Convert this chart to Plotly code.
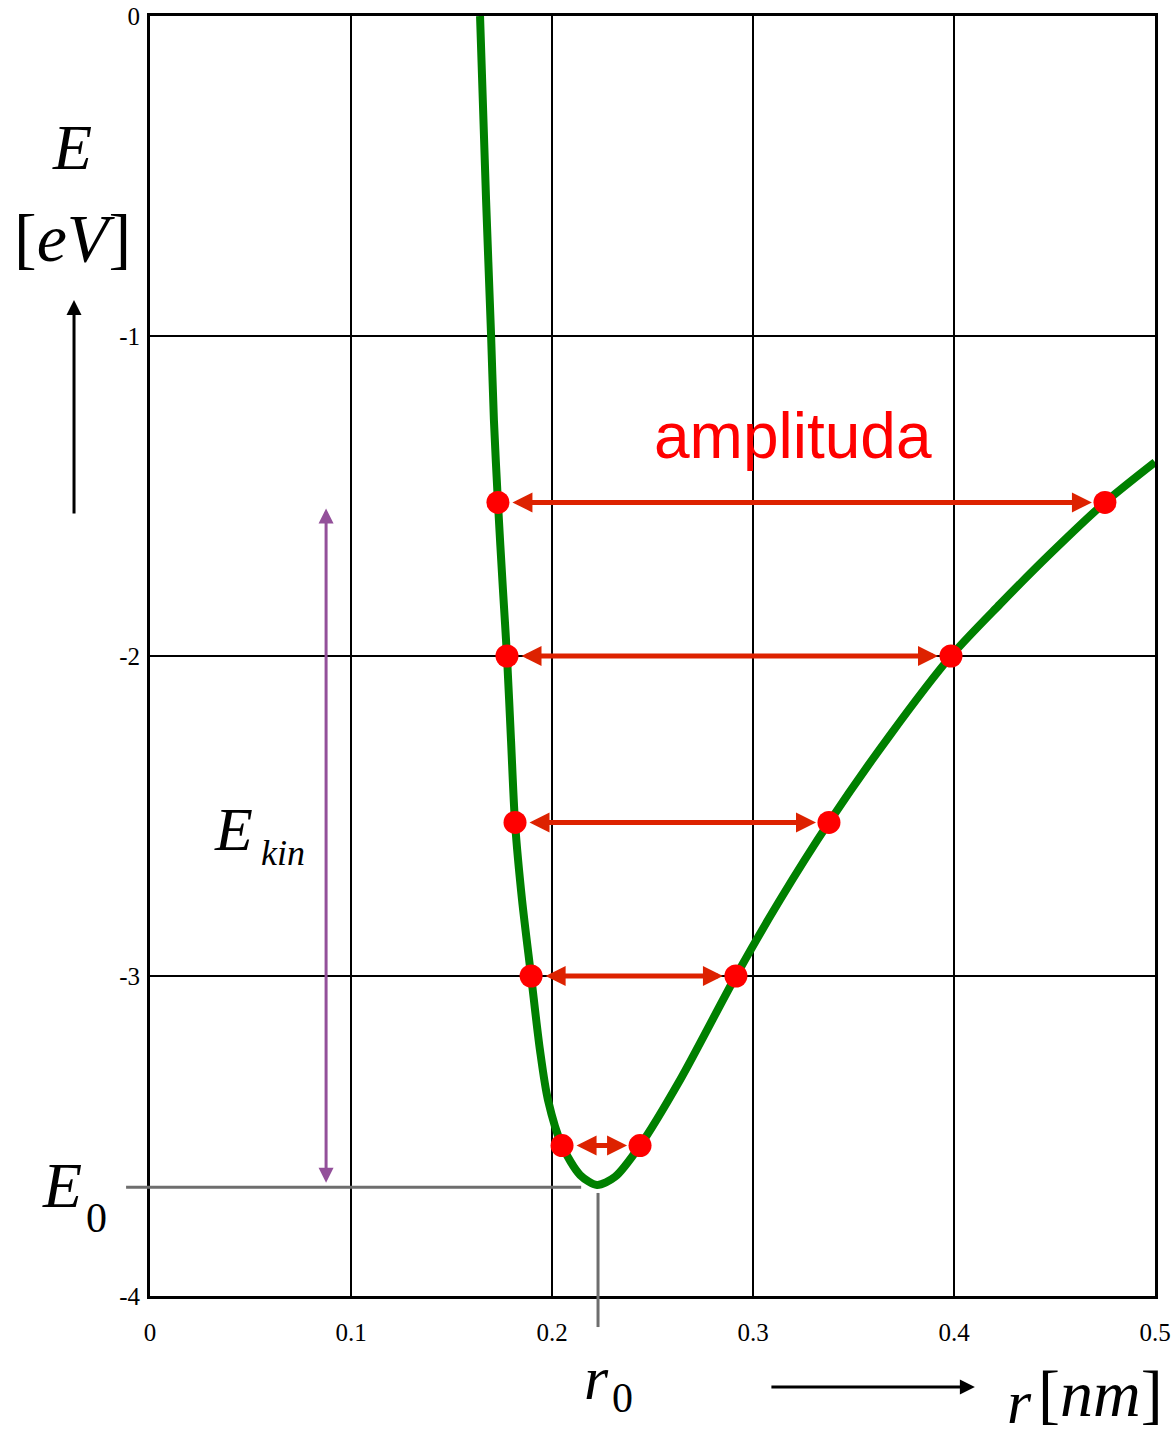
import plotly.graph_objects as go

# Potential-energy curve of a diatomic bond: E(r)
r_curve = [0.1642, 0.1672, 0.1697, 0.1711, 0.1731, 0.1756, 0.1776, 0.1796, 0.1816,
           0.1851, 0.1896, 0.1940, 0.1980, 0.2050, 0.2140, 0.2224, 0.2313, 0.2438,
           0.2637, 0.2915, 0.3134, 0.3378, 0.3682, 0.3985, 0.4229, 0.4478, 0.4751, 0.5000]
e_curve = [0.0, -0.575, -1.0, -1.2625, -1.52, -1.794, -2.0, -2.2625, -2.52,
           -2.7625, -3.0, -3.231, -3.3875, -3.53, -3.622, -3.653, -3.628, -3.53,
           -3.325, -3.0, -2.7625, -2.52, -2.247, -2.0, -1.838, -1.681, -1.52, -1.394]

# Vibration levels and the turning points on each side of the well
levels = [-1.52, -2.0, -2.52, -3.0, -3.53]
r_left = [0.1731, 0.1776, 0.1816, 0.1896, 0.2050]
r_right = [0.4751, 0.3985, 0.3378, 0.2915, 0.2438]

# Equilibrium distance and bottom of the well
r0 = 0.2229
E0 = -3.66

x_ticks = [0, 0.1, 0.2, 0.3, 0.4, 0.5]
x_tick_text = ["0", "0.1", "0.2", "0.3", "0.4", "0.5"]
y_ticks = [0, -1, -2, -3, -4]
y_tick_text = ["0", "-1", "-2", "-3", "-4"]

X_RANGE = [0, 0.5]
Y_RANGE = [-4, 0]


def px(x):
    return (x - X_RANGE[0]) / (X_RANGE[1] - X_RANGE[0])


def py(y):
    return (y - Y_RANGE[0]) / (Y_RANGE[1] - Y_RANGE[0])


SERIF = "Liberation Serif, Times New Roman, serif"
RED_ARROW = "#dd2200"
PURPLE = "#93509a"
GRAY = "#6e6e6e"

fig = go.Figure()

fig.add_trace(go.Scatter(
    x=r_curve, y=e_curve, mode="lines",
    line=dict(color="#008000", width=8, shape="spline", smoothing=0.8),
    hoverinfo="skip", showlegend=False,
))

fig.add_trace(go.Scatter(
    x=r_left + r_right, y=levels + levels, mode="markers",
    marker=dict(color="#ff0000", size=23), cliponaxis=False,
    hoverinfo="skip", showlegend=False,
))

annotations = []

# Double-headed amplitude arrows between turning points
for lv, rl, rr in zip(levels, r_left, r_right):
    annotations.append(dict(
        x=rr, y=lv, ax=rl, ay=lv, xref="x", yref="y", axref="x", ayref="y",
        text="", showarrow=True, arrowside="end+start",
        arrowhead=2, startarrowhead=2, arrowsize=0.8, startarrowsize=0.8,
        arrowwidth=5, arrowcolor=RED_ARROW, standoff=13, startstandoff=13,
    ))

# Kinetic energy span (purple)
ekin_r = 0.0876
annotations.append(dict(
    x=ekin_r, y=levels[0], ax=ekin_r, ay=E0, xref="x", yref="y", axref="x", ayref="y",
    text="", showarrow=True, arrowside="end+start",
    arrowhead=2, startarrowhead=2, arrowsize=1, startarrowsize=1,
    arrowwidth=3, arrowcolor=PURPLE, standoff=6, startstandoff=3,
))

# Axis direction arrows (outside the plot area)
annotations.append(dict(
    x=px(-0.0378), y=py(-0.8875), xref="paper", yref="paper",
    ax=0, ay=215, axref="pixel", ayref="pixel",
    text="", showarrow=True, arrowhead=2, arrowsize=1, arrowwidth=3, arrowcolor="black",
))
annotations.append(dict(
    x=px(0.4104), y=py(-4.284), xref="paper", yref="paper",
    ax=-205, ay=0, axref="pixel", ayref="pixel",
    text="", showarrow=True, arrowhead=2, arrowsize=1, arrowwidth=3, arrowcolor="black",
))


def label(text, x, y, size, color="black", family=SERIF):
    annotations.append(dict(
        x=px(x), y=py(y), xref="paper", yref="paper", text=text, showarrow=False,
        xanchor="center", yanchor="middle",
        font=dict(family=family, size=size, color=color),
    ))


label("<i>E</i>", -0.0388, -0.41, 64)
label("[<i>eV</i>]", -0.0388, -0.695, 68)
label("<i>E</i>", 0.0413, -2.54, 62)
label("<i>kin</i>", 0.0662, -2.615, 36)
label("<i>E</i>", -0.0440, -3.655, 64)
label("0", -0.0264, -3.755, 42)
label("<i>r</i>", 0.2219, -4.255, 62)
label("0", 0.2350, -4.318, 42)
label("<i>r</i>", 0.4328, -4.33, 62)
label("[<i>nm</i>]", 0.4731, -4.305, 66)
label("amplituda", 0.3199, -1.313, 64, color="#ff0000",
      family="Liberation Sans, Arial, sans-serif")

shapes = [
    # E0 level line
    dict(type="line", xref="paper", yref="paper",
         x0=px(-0.0119), x1=px(0.2145), y0=py(E0), y1=py(E0),
         line=dict(color=GRAY, width=3)),
    # r0 position line
    dict(type="line", xref="paper", yref="paper",
         x0=px(r0), x1=px(r0), y0=py(-3.678), y1=py(-4.097),
         line=dict(color=GRAY, width=3)),
]

fig.update_layout(
    width=1171, height=1429,
    margin=dict(l=150, r=16, t=16, b=133),
    paper_bgcolor="white", plot_bgcolor="white",
    showlegend=False,
    annotations=annotations,
    shapes=shapes,
    xaxis=dict(
        range=X_RANGE, tickvals=x_ticks, ticktext=x_tick_text, automargin=False,
        showgrid=True, gridcolor="black", gridwidth=2,
        showline=True, linecolor="black", linewidth=3, mirror=True,
        zeroline=False, ticks="", ticklabelstandoff=12,
        tickfont=dict(family=SERIF, size=25, color="black"),
    ),
    yaxis=dict(
        range=Y_RANGE, tickvals=y_ticks, ticktext=y_tick_text, automargin=False,
        showgrid=True, gridcolor="black", gridwidth=2,
        showline=True, linecolor="black", linewidth=3, mirror=True,
        zeroline=False, ticks="", ticklabelstandoff=2,
        tickfont=dict(family=SERIF, size=25, color="black"),
    ),
)

fig.write_html("out.html")
